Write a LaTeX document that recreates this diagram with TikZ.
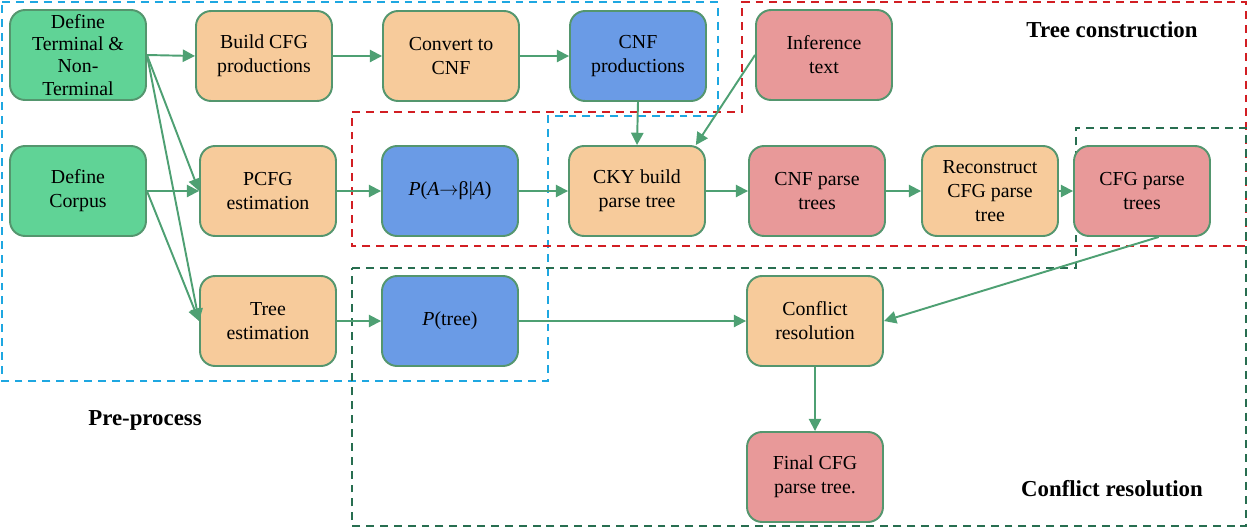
\documentclass[tikz,border=0pt]{standalone}
\usepackage{fontspec}
\setmainfont{Liberation Serif}
\usetikzlibrary{arrows.meta,calc}
\definecolor{gfill}{RGB}{96,211,150}
\definecolor{ofill}{RGB}{247,203,155}
\definecolor{bfill}{RGB}{106,155,230}
\definecolor{rfill}{RGB}{232,153,153}
\definecolor{edgec}{RGB}{84,150,110}
\definecolor{arrc}{RGB}{78,160,115}
\definecolor{dcyan}{RGB}{30,167,225}
\definecolor{dred}{RGB}{210,30,35}
\definecolor{dgreen}{RGB}{40,110,80}
\begin{document}
\begin{tikzpicture}[x=0.02cm,y=-0.02cm,
  box/.style={draw=edgec, line width=1.1pt, rounded corners=0.3cm,
    minimum width=2.72cm, minimum height=1.8cm, align=center,
    font=\fontsize{11.3}{13.6}\selectfont, inner sep=0pt},
  gbox/.style={box, fill=gfill},
  obox/.style={box, fill=ofill},
  bbox/.style={box, fill=bfill},
  rbox/.style={box, fill=rfill},
  conn/.style={draw=arrc, line width=1.1pt, -{Triangle[length=7pt,width=7pt]}},
  region/.style={line width=1.1pt, dash pattern=on 4.5pt off 3.4pt},
  title/.style={font=\fontsize{13}{15}\selectfont\bfseries}
]
\useasboundingbox (0,0) rectangle (1248,528);

% regions
\draw[region, dcyan] (2,2) -- (718,2) -- (718,116) -- (548,116) -- (548,381) -- (2,381) -- cycle;
\draw[region, dred] (352,112) -- (742,112) -- (742,2) -- (1246,2) -- (1246,246) -- (352,246) -- cycle;
\draw[region, dgreen] (352,268) -- (1076,268) -- (1076,128) -- (1246,128) -- (1246,526) -- (352,526) -- cycle;

% nodes
\node[gbox, font=\fontsize{11.3}{12.6}\selectfont] (dt) at (78,55) {Define\\Terminal \&\\Non-\\Terminal};
\node[obox] (build) at (264,56) {Build CFG\\productions};
\node[obox] (conv) at (451,56) {Convert to\\CNF};
\node[bbox] (cnfp) at (638,56) {CNF\\productions};
\node[rbox] (inf) at (824,55) {Inference\\text};

\node[gbox] (dc) at (78,191) {Define\\Corpus};
\node[obox] (pcfg) at (268,191) {PCFG\\estimation};
\node[bbox] (pa) at (450,191) {{\itshape P}({\itshape A}$\rightarrow$β|{\itshape A})};
\node[obox] (cky) at (637,191) {CKY build\\parse tree};
\node[rbox] (cnft) at (817,191) {CNF parse\\trees};
\node[obox] (rec) at (990,191) {Reconstruct\\CFG parse\\tree};
\node[rbox] (cfgt) at (1142,191) {CFG parse\\trees};

\node[obox] (te) at (268,321) {Tree\\estimation};
\node[bbox] (pt) at (450,321) {{\itshape P}(tree)};
\node[obox] (cr) at (815,321) {Conflict\\resolution};
\node[rbox] (fin) at (815,477) {Final CFG\\parse tree.};

% titles
\node[title] (t1) at (1112,30) {Tree construction};
\node[title] (t2) at (145,420) {Pre-process};
\node[title] (t3) at (1112,489) {Conflict resolution};

% connectors
\draw[conn] (dt.east) -- (build.west);
\draw[conn] (build.east) -- (conv.west);
\draw[conn] (conv.east) -- (cnfp.west);
\draw[conn] (dt.east) -- (pcfg.west);
\draw[conn] (dt.east) -- (te.west);
\draw[conn] (dc.east) -- (pcfg.west);
\draw[conn] (dc.east) -- (te.west);
\draw[conn] (pcfg.east) -- (pa.west);
\draw[conn] (pa.east) -- (cky.west);
\draw[conn] (cnfp.south) -- (cky.north);
\draw[conn] (inf.west) -- (cky.38);
\draw[conn] (cky.east) -- (cnft.west);
\draw[conn] (cnft.east) -- (rec.west);
\draw[conn] (rec.east) -- (cfgt.west);
\draw[conn] (te.east) -- (pt.west);
\draw[conn] (pt.east) -- (cr.west);
\draw[conn] (cfgt.-70) -- (cr.east);
\draw[conn] (cr.south) -- (fin.north);
\end{tikzpicture}
\end{document}
